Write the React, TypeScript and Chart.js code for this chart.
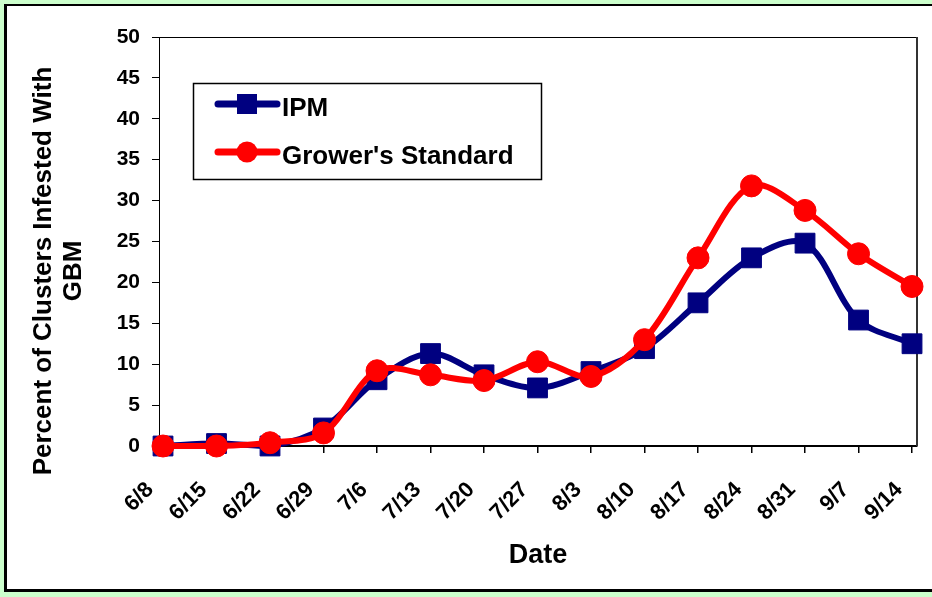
import React, { useEffect, useRef } from "react";
import { Chart, registerables } from "chart.js";

Chart.register(...registerables);

const dates = ["6/8", "6/15", "6/22", "6/29", "7/6", "7/13", "7/20", "7/27", "8/3", "8/10", "8/17", "8/24", "8/31", "9/7", "9/14"];
const ipmValues = [0, 0.3, 0, 2.2, 8.1, 11.3, 8.7, 7.1, 9.1, 11.9, 17.5, 23, 24.8, 15.4, 12.5];
const growersValues = [0, 0, 0.4, 1.6, 9.2, 8.7, 8.0, 10.3, 8.5, 13, 23, 31.8, 28.8, 23.5, 19.5];
const seriesNames = ["IPM", "Grower's Standard"];
const seriesColors = ["#000080", "#ff0000"];
const yMin = 0;
const yMax = 50;
const yStep = 5;
const yTitleLines = ["Percent of Clusters Infested With", "GBM"];
const xTitle = "Date";

const FONT = "'Liberation Sans', Arial, sans-serif";

const overlayPlugin = {
  id: "overlay",
  beforeDatasetsDraw(chart: any) {
    const { ctx, chartArea } = chart;
    ctx.save();
    ctx.strokeStyle = "#000";
    ctx.lineWidth = 1;
    ctx.beginPath();
    ctx.moveTo(chartArea.left, chartArea.top + 0.5);
    ctx.lineTo(chartArea.right, chartArea.top + 0.5);
    ctx.stroke();
    ctx.strokeStyle = "#333";
    ctx.lineWidth = 2;
    ctx.beginPath();
    ctx.moveTo(chartArea.right, chartArea.top);
    ctx.lineTo(chartArea.right, chartArea.bottom);
    ctx.stroke();
    ctx.restore();
  },
  afterDraw(chart: any) {
    const { ctx } = chart;
    ctx.save();
    // y axis title
    ctx.fillStyle = "#000";
    ctx.font = `bold 26px ${FONT}`;
    ctx.textAlign = "center";
    ctx.textBaseline = "middle";
    const cy = 271;
    const xs = [44, 74];
    yTitleLines.forEach((t, i) => {
      ctx.save();
      ctx.translate(xs[i], cy);
      ctx.rotate(-Math.PI / 2);
      ctx.fillText(t, 0, 0);
      ctx.restore();
    });
    // legend
    const bx = 193, by = 83, bw = 348, bh = 96;
    ctx.fillStyle = "#fff";
    ctx.fillRect(bx, by, bw, bh);
    ctx.strokeStyle = "#000";
    ctx.lineWidth = 1.5;
    ctx.strokeRect(bx + 0.5, by + 0.5, bw, bh);
    const rows = [104, 152];
    seriesNames.forEach((name, i) => {
      const y = rows[i];
      ctx.strokeStyle = seriesColors[i];
      ctx.lineWidth = 7;
      ctx.lineCap = "round";
      ctx.beginPath();
      ctx.moveTo(218, y);
      ctx.lineTo(277, y);
      ctx.stroke();
      ctx.fillStyle = seriesColors[i];
      if (i === 0) {
        ctx.fillRect(247 - 10, y - 10, 20, 20);
      } else {
        ctx.beginPath();
        ctx.arc(247, y, 10.5, 0, Math.PI * 2);
        ctx.fill();
      }
      ctx.fillStyle = "#000";
      ctx.font = `bold 26px ${FONT}`;
      ctx.textAlign = "left";
      ctx.textBaseline = "alphabetic";
      ctx.fillText(name, 282, y + 12);
    });
    ctx.restore();
  },
};

export default function App() {
  const ref = useRef<HTMLCanvasElement | null>(null);

  useEffect(() => {
    if (!ref.current) return;
    const chart = new Chart(ref.current, {
      type: "line",
      data: {
        datasets: [
          {
            label: seriesNames[0],
            data: ipmValues.map((v, i) => ({ x: i, y: v })),
            borderColor: seriesColors[0],
            backgroundColor: seriesColors[0],
            borderWidth: 6,
            tension: 0.33,
            pointStyle: "rect",
            pointRadius: 14,
            pointBorderWidth: 1,
            pointBackgroundColor: seriesColors[0],
            pointBorderColor: seriesColors[0],
            clip: false,
            order: 2,
          },
          {
            label: seriesNames[1],
            data: growersValues.map((v, i) => ({ x: i, y: v })),
            borderColor: seriesColors[1],
            backgroundColor: seriesColors[1],
            borderWidth: 6,
            tension: 0.33,
            pointStyle: "circle",
            pointRadius: 11,
            pointBorderWidth: 1,
            pointBackgroundColor: seriesColors[1],
            pointBorderColor: seriesColors[1],
            clip: false,
            order: 1,
          },
        ],
      },
      options: {
        animation: false,
        responsive: false,
        devicePixelRatio: 1,
        layout: { padding: { top: 37, right: 15, left: 0, bottom: 0 } },
        plugins: {
          legend: { display: false },
          tooltip: { enabled: false },
        },
        scales: {
          x: {
            type: "linear",
            min: -0.075,
            max: 14.093,
            afterFit: (scale: any) => {
              scale.height = 151;
              scale.paddingLeft = 0;
              scale.paddingRight = 0;
            },
            ticks: {
              stepSize: 1,
              includeBounds: false,
              autoSkip: false,
              maxRotation: 45,
              minRotation: 45,
              padding: 24,
              labelOffset: -13,
              color: "#000",
              font: { family: FONT, size: 22, weight: "bold" },
              callback: (v: any) => (Number.isInteger(v) && dates[v] !== undefined ? dates[v] : ""),
            },
            grid: {
              drawOnChartArea: false,
              drawTicks: true,
              tickLength: 7,
              color: "#000",
              lineWidth: 1.5,
            },
            border: { display: true, color: "#000", width: 2 },
            title: {
              display: true,
              text: xTitle,
              color: "#000",
              font: { family: FONT, size: 27, weight: "bold" },
              padding: { top: 0, bottom: 25 },
            },
          },
          y: {
            min: yMin,
            max: yMax,
            afterFit: (scale: any) => {
              scale.width = 159;
              scale.paddingTop = 0;
              scale.paddingBottom = 0;
            },
            ticks: {
              stepSize: yStep,
              padding: 12,
              color: "#000",
              font: { family: FONT, size: 21, weight: "bold" },
            },
            grid: {
              drawOnChartArea: false,
              drawTicks: true,
              tickLength: 7,
              color: "#000",
              lineWidth: 1,
            },
            border: { display: true, color: "#000", width: 1 },
          },
        },
      },
      plugins: [overlayPlugin],
    });
    return () => chart.destroy();
  }, []);

  return (
    <div
      style={{
        position: "fixed",
        left: 0,
        top: 0,
        width: 932,
        height: 597,
        background: "#ccffcc",
        overflow: "hidden",
      }}
    >
      <div
        style={{
          position: "absolute",
          left: 4,
          top: 4,
          width: 960,
          height: 583,
          background: "#fff",
          borderTop: "2px solid #000",
          borderLeft: "3px solid #000",
          borderBottom: "3px solid #000",
        }}
      />
      <canvas
        ref={ref}
        width={932}
        height={597}
        style={{ position: "absolute", left: 0, top: 0, width: 932, height: 597 }}
      />
    </div>
  );
}
